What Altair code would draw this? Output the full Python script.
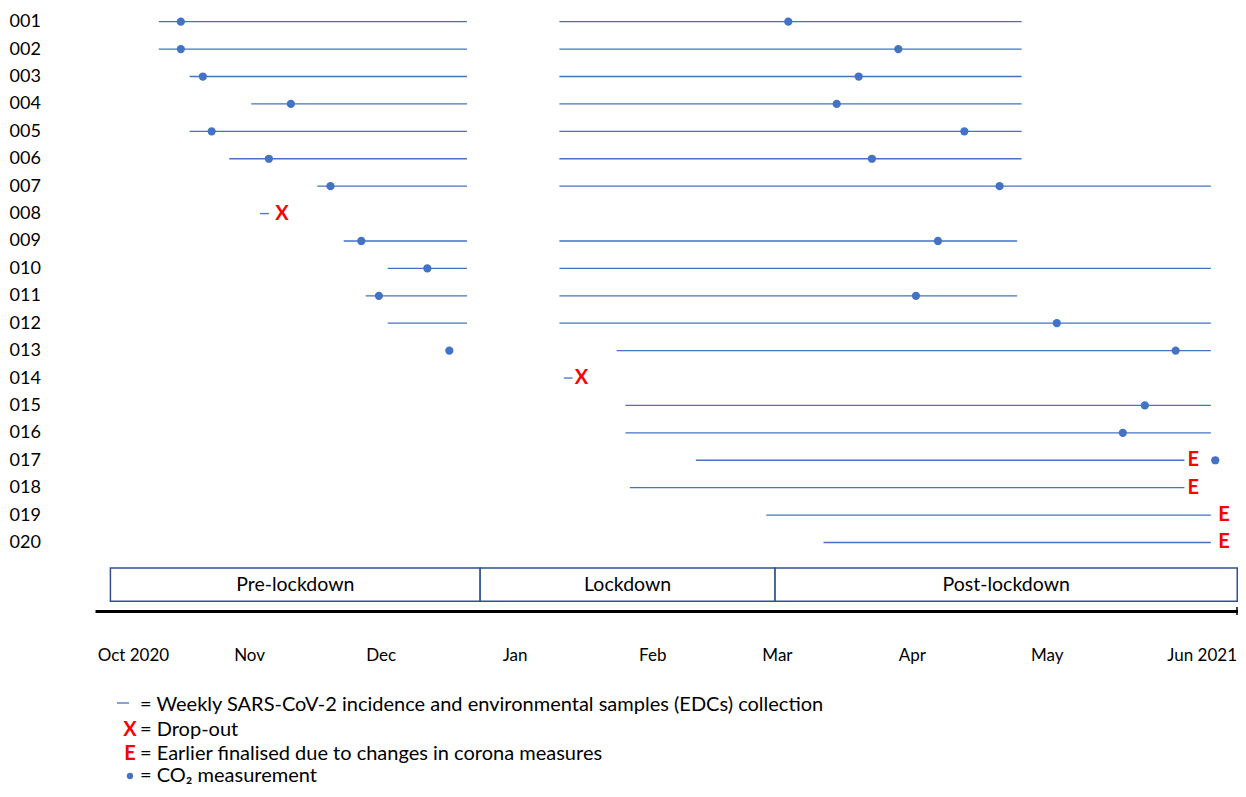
import json
import altair as alt
import pandas as pd

# ---------------- data ----------------
participants = ["001", "002", "003", "004", "005", "006", "007", "008", "009", "010",
                "011", "012", "013", "014", "015", "016", "017", "018", "019", "020"]

# weekly incidence / EDC collection periods
seg_id = ["001", "001", "002", "002", "003", "003", "004", "004", "005", "005",
          "006", "006", "007", "007", "008", "009", "009", "010", "010", "011",
          "011", "012", "012", "013", "014", "015", "016", "017", "018", "019", "020"]
seg_start = ["2020-10-15", "2021-01-14", "2020-10-15", "2021-01-14", "2020-10-22", "2021-01-14",
             "2020-11-05", "2021-01-14", "2020-10-22", "2021-01-14", "2020-10-31", "2021-01-14",
             "2020-11-20", "2021-01-14", "2020-11-07", "2020-11-26", "2021-01-14", "2020-12-06",
             "2021-01-14", "2020-12-01", "2021-01-14", "2020-12-06", "2021-01-14", "2021-01-27",
             "2021-01-15", "2021-01-29", "2021-01-29", "2021-02-14", "2021-01-30", "2021-03-02",
             "2021-03-15"]
seg_end = ["2020-12-24", "2021-04-29", "2020-12-24", "2021-04-29", "2020-12-24", "2021-04-29",
           "2020-12-24", "2021-04-29", "2020-12-24", "2021-04-29", "2020-12-24", "2021-04-29",
           "2020-12-24", "2021-06-11", "2020-11-09", "2020-12-24", "2021-04-28", "2020-12-24",
           "2021-06-11", "2020-12-24", "2021-04-28", "2020-12-24", "2021-06-11", "2021-06-11",
           "2021-01-17", "2021-06-11", "2021-06-11", "2021-06-05", "2021-06-05", "2021-06-11",
           "2021-06-11"]

# CO2 measurements
co2_id = ["001", "001", "002", "002", "003", "003", "004", "004", "005", "005", "006", "006",
          "007", "007", "009", "009", "010", "011", "011", "012", "013", "013", "015", "016", "017"]
co2_date = ["2020-10-20", "2021-03-07", "2020-10-20", "2021-04-01", "2020-10-25", "2021-03-23",
            "2020-11-14", "2021-03-18", "2020-10-27", "2021-04-16", "2020-11-09", "2021-03-26",
            "2020-11-23", "2021-04-24", "2020-11-30", "2021-04-10", "2020-12-15", "2020-12-04",
            "2021-04-05", "2021-05-07", "2020-12-20", "2021-06-03", "2021-05-27", "2021-05-22",
            "2021-06-12"]

# drop-outs (X) and earlier finalised (E)
dropout_id = ["008", "014"]
dropout_date = ["2020-11-12", "2021-01-19"]
early_id = ["017", "018", "019", "020"]
early_date = ["2021-06-07", "2021-06-07", "2021-06-14", "2021-06-14"]

# phases
phase_names = ["Pre-lockdown", "Lockdown", "Post-lockdown"]
phase_start = ["2020-10-04", "2020-12-27", "2021-03-04"]
phase_end = ["2020-12-27", "2021-03-04", "2021-06-17"]

# axis ticks
tick_dates = ["2020-10-01", "2020-11-01", "2020-12-01", "2021-01-01", "2021-02-01",
              "2021-03-01", "2021-04-01", "2021-05-01", "2021-06-01"]
tick_labels = ["Oct 2020", "Nov", "Dec", "Jan", "Feb", "Mar", "Apr", "May", "Jun 2021"]

legend_texts = [
    "= Weekly SARS-CoV-2 incidence and environmental samples (EDCs) collection",
    "= Drop-out",
    "= Earlier finalised due to changes in corona measures",
    "= CO\u2082 measurement",
]

# ---------------- styling ----------------
BLUE = "#4472C4"
RED = "#FF0000"
BOX = "#2F528F"
FONT = "Lato"
W, H = 1143, 603


def row_of(ids):
    return [participants.index(p) + 1 for p in ids]


seg_df = pd.DataFrame({"id": seg_id, "start": seg_start, "end": seg_end, "row": row_of(seg_id)})
co2_df = pd.DataFrame({"id": co2_id, "date": co2_date, "row": row_of(co2_id)})
drop_df = pd.DataFrame({"id": dropout_id, "date": dropout_date, "row": row_of(dropout_id)})
early_df = pd.DataFrame({"id": early_id, "date": early_date, "row": row_of(early_id)})
ps = pd.to_datetime(pd.Series(phase_start))
pe = pd.to_datetime(pd.Series(phase_end))
phase_df = pd.DataFrame({
    "name": phase_names,
    "start": phase_start,
    "end": phase_end,
    "mid": (ps + (pe - ps) / 2).dt.strftime("%Y-%m-%dT%H:%M:%SZ"),
})


def dt(s, hours=0):
    y, m, d = (int(v) for v in s.split("-"))
    return alt.DateTime(year=y, month=m, date=d, hours=hours, utc=True)


xscale = alt.Scale(type="utc", domain=[dt("2020-09-30", 12), dt("2021-06-17", 4)])
xaxis = alt.Axis(
    values=[dt(s) for s in tick_dates],
    labelExpr=json.dumps(tick_labels) + "[indexof(" + json.dumps(tick_dates)
    + ", utcFormat(datum.value, '%Y-%m-%d'))]",
    title=None, grid=False, ticks=False, tickSize=0,
    domainColor="black", domainWidth=3,
    labelFont=FONT, labelFontSize=17, labelColor="black",
    labelAlign="left", labelBaseline="middle", labelPadding=44,
    labelFlush=False, labelOverlap=False,
)
yscale = alt.Scale(domain=[0.5, 22.5], reverse=True, nice=False, zero=False)
yaxis = alt.Axis(
    values=list(range(1, len(participants) + 1)),
    labelExpr=json.dumps(participants) + "[datum.value - 1]",
    title=None, grid=False, ticks=False, tickSize=0, domain=False,
    labelFont=FONT, labelFontSize=18, labelColor="black",
    labelAlign="left", labelBaseline="middle", labelPadding=86,
    labelFlush=False, labelOverlap=False,
)


def X(f):
    return alt.X(f, type="temporal", scale=xscale, axis=xaxis)


def Y(f):
    return alt.Y(f, type="quantitative", scale=yscale, axis=yaxis)


def YD(v):
    return alt.YDatum(datum=v, type="quantitative", scale=yscale, axis=yaxis)


boxes = alt.Chart(phase_df).mark_rect(fill="white", stroke=BOX, strokeWidth=1.5).encode(
    x=X("start"), x2="end", y=YD(20.93), y2=alt.Y2Datum(datum=22.14)
)
box_text = alt.Chart(phase_df).mark_text(font=FONT, fontSize=19.5, color="black",
                                         baseline="middle").encode(
    x=X("mid"), y=YD(21.56), text="name"
)
segs = alt.Chart(seg_df).mark_rule(color=BLUE, strokeWidth=1.3).encode(
    x=X("start"), x2="end", y=Y("row")
)
dots = alt.Chart(co2_df).mark_circle(color=BLUE, size=68, opacity=1).encode(
    x=X("date"), y=Y("row")
)
drops = alt.Chart(drop_df).mark_text(text="X", color=RED, font=FONT, fontWeight="bold",
                                     fontSize=20, baseline="middle").encode(
    x=X("date"), y=Y("row")
)
earlies = alt.Chart(early_df).mark_text(text="E", color=RED, font=FONT, fontWeight="bold",
                                        fontSize=20, baseline="middle").encode(
    x=X("date"), y=Y("row")
)

one = alt.Data(values=[{"k": 0}])
end_tick = alt.Chart(one).mark_rule(color="black", strokeWidth=1.5).encode(
    x=alt.value(W - 1), y=alt.value(H - 4), y2=alt.value(H + 4)
)

LY = [697, 722, 746, 768]
SX, TX = 35, 45
leg = [
    alt.Chart(one).mark_rule(color=BLUE, strokeWidth=1.3).encode(
        x=alt.value(22), x2=alt.value(34), y=alt.value(LY[0] - 2)),
    alt.Chart(one).mark_text(text="X", color=RED, font=FONT, fontWeight="bold", fontSize=20,
                             baseline="middle").encode(x=alt.value(SX), y=alt.value(LY[1])),
    alt.Chart(one).mark_text(text="E", color=RED, font=FONT, fontWeight="bold", fontSize=20,
                             baseline="middle").encode(x=alt.value(SX), y=alt.value(LY[2])),
    alt.Chart(one).mark_circle(color=BLUE, size=40, opacity=1).encode(
        x=alt.value(SX), y=alt.value(LY[3])),
]
for i, t in enumerate(legend_texts):
    leg.append(
        alt.Chart(one).mark_text(text=t, align="left", baseline="middle", font=FONT,
                                 fontSize=20, color="black").encode(
            x=alt.value(TX), y=alt.value(LY[i]))
    )

chart = alt.layer(boxes, box_text, segs, dots, drops, earlies, end_tick, *leg).properties(
    width=W, height=H,
    padding={"left": 87, "top": 0, "right": 0, "bottom": 178},
    autosize=alt.AutoSizeParams(type="none"),
).configure_view(stroke=None)

chart.save("out.html", embed_options={"renderer": "svg", "actions": False})
